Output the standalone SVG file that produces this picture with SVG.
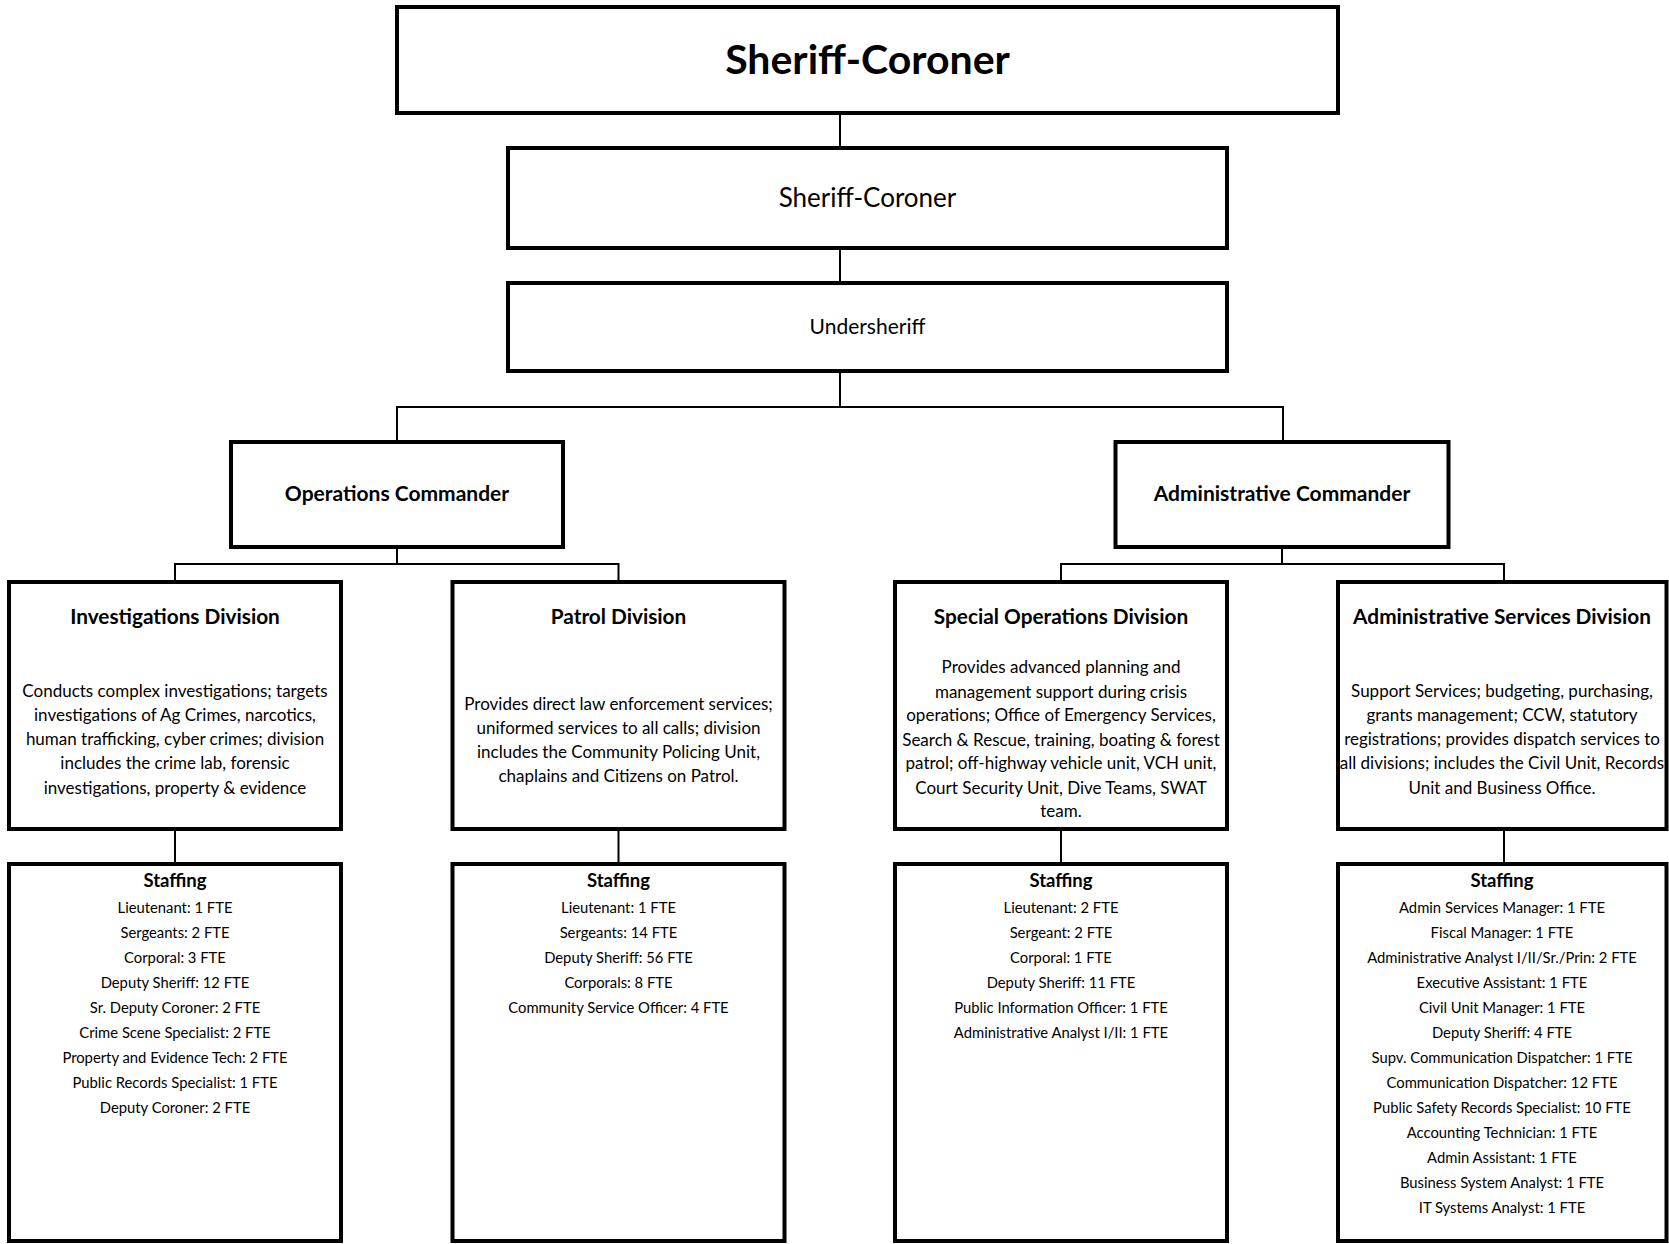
<svg xmlns="http://www.w3.org/2000/svg" width="1669" height="1244" viewBox="0 0 1669 1244">
  <style>
    .box { fill: #ffffff; stroke: #000000; stroke-width: 4; }
    .conn { fill: none; stroke: #000000; stroke-width: 2; }
    text { font-family: Lato, "Open Sans", "Liberation Sans", sans-serif; fill: #000000; text-anchor: middle; }
    .title { font-size: 41px; font-weight: bold; }
    .chief { font-size: 26px; }
    .under { font-size: 21px; }
    .cmd { font-size: 21px; font-weight: bold; }
    .div { font-size: 20.8px; font-weight: bold; }
    .desc { font-size: 17px; }
    .sh { font-size: 18.5px; font-weight: bold; }
    .st { font-size: 14.8px; }
  </style>
  <rect width="1669" height="1244" fill="#ffffff"/>

  <!-- reporting lines -->
  <g id="connectors">
    <path class="conn" d="M840 113 V148 M840 248 V283 M840 371 V407"/>
    <path class="conn" d="M397 442 V407 H1283 V442"/>
    <path class="conn" d="M397 547 V564 M175 582 V564 H618.5 V582"/>
    <path class="conn" d="M1282 547 V564 M1061 582 V564 H1504 V582"/>
    <path class="conn" d="M175 829 V864 M618.5 829 V864 M1061 829 V864 M1504 829 V864"/>
  </g>

  <g id="header">
    <rect class="box" x="397" y="7" width="941" height="106"/>
    <text class="title" x="867.5" y="74">Sheriff-Coroner</text>
  </g>

  <g id="sheriff">
    <rect class="box" x="508" y="148" width="719" height="100"/>
    <text class="chief" x="867.5" y="207">Sheriff-Coroner</text>
  </g>

  <g id="undersheriff">
    <rect class="box" x="508" y="283" width="719" height="88"/>
    <text class="under" x="867.5" y="334">Undersheriff</text>
  </g>

  <g id="ops-commander">
    <rect class="box" x="231" y="442" width="332" height="105"/>
    <text class="cmd" x="397" y="501">Operations Commander</text>
  </g>

  <g id="admin-commander">
    <rect class="box" x="1115.5" y="442" width="333" height="105"/>
    <text class="cmd" x="1282" y="501">Administrative Commander</text>
  </g>

  <g id="investigations">
    <rect class="box" x="9" y="582" width="332" height="247"/>
    <text class="div" x="175" y="624">Investigations Division</text>
    <text class="desc" x="175" y="697">Conducts complex investigations; targets</text>
    <text class="desc" x="175" y="721">investigations of Ag Crimes, narcotics,</text>
    <text class="desc" x="175" y="745">human trafficking, cyber crimes; division</text>
    <text class="desc" x="175" y="769">includes the crime lab, forensic</text>
    <text class="desc" x="175" y="794">investigations, property &amp; evidence</text>
  </g>

  <g id="patrol">
    <rect class="box" x="452.5" y="582" width="332" height="247"/>
    <text class="div" x="618.5" y="624">Patrol Division</text>
    <text class="desc" x="618.5" y="710">Provides direct law enforcement services;</text>
    <text class="desc" x="618.5" y="734">uniformed services to all calls; division</text>
    <text class="desc" x="618.5" y="758">includes the Community Policing Unit,</text>
    <text class="desc" x="618.5" y="782">chaplains and Citizens on Patrol.</text>
  </g>

  <g id="special-operations">
    <rect class="box" x="895" y="582" width="332" height="247"/>
    <text class="div" x="1061" y="624">Special Operations Division</text>
    <text class="desc" x="1061" y="673">Provides advanced planning and</text>
    <text class="desc" x="1061" y="698">management support during crisis</text>
    <text class="desc" x="1061" y="721">operations; Office of Emergency Services,</text>
    <text class="desc" x="1061" y="746">Search &amp; Rescue, training, boating &amp; forest</text>
    <text class="desc" x="1061" y="769">patrol; off-highway vehicle unit, VCH unit,</text>
    <text class="desc" x="1061" y="794">Court Security Unit, Dive Teams, SWAT</text>
    <text class="desc" x="1061" y="817">team.</text>
  </g>

  <g id="administrative-services">
    <rect class="box" x="1338" y="582" width="328.5" height="247"/>
    <text class="div" x="1502" y="624">Administrative Services Division</text>
    <text class="desc" x="1502" y="697">Support Services; budgeting, purchasing,</text>
    <text class="desc" x="1502" y="721">grants management; CCW, statutory</text>
    <text class="desc" x="1502" y="745">registrations; provides dispatch services to</text>
    <text class="desc" x="1502" y="769">all divisions; includes the Civil Unit, Records</text>
    <text class="desc" x="1502" y="794">Unit and Business Office.</text>
  </g>

  <g id="investigations-staffing">
    <rect class="box" x="9" y="864" width="332" height="377"/>
    <text class="sh" x="175" y="887">Staffing</text>
    <text class="st" x="175" y="913">Lieutenant: 1 FTE</text>
    <text class="st" x="175" y="938">Sergeants: 2 FTE</text>
    <text class="st" x="175" y="963">Corporal: 3 FTE</text>
    <text class="st" x="175" y="988">Deputy Sheriff: 12 FTE</text>
    <text class="st" x="175" y="1013">Sr. Deputy Coroner: 2 FTE</text>
    <text class="st" x="175" y="1038">Crime Scene Specialist: 2 FTE</text>
    <text class="st" x="175" y="1063">Property and Evidence Tech: 2 FTE</text>
    <text class="st" x="175" y="1088">Public Records Specialist: 1 FTE</text>
    <text class="st" x="175" y="1113">Deputy Coroner: 2 FTE</text>
  </g>

  <g id="patrol-staffing">
    <rect class="box" x="452.5" y="864" width="332" height="377"/>
    <text class="sh" x="618.5" y="887">Staffing</text>
    <text class="st" x="618.5" y="913">Lieutenant: 1 FTE</text>
    <text class="st" x="618.5" y="938">Sergeants: 14 FTE</text>
    <text class="st" x="618.5" y="963">Deputy Sheriff: 56 FTE</text>
    <text class="st" x="618.5" y="988">Corporals: 8 FTE</text>
    <text class="st" x="618.5" y="1013">Community Service Officer: 4 FTE</text>
  </g>

  <g id="special-operations-staffing">
    <rect class="box" x="895" y="864" width="332" height="377"/>
    <text class="sh" x="1061" y="887">Staffing</text>
    <text class="st" x="1061" y="913">Lieutenant: 2 FTE</text>
    <text class="st" x="1061" y="938">Sergeant: 2 FTE</text>
    <text class="st" x="1061" y="963">Corporal: 1 FTE</text>
    <text class="st" x="1061" y="988">Deputy Sheriff: 11 FTE</text>
    <text class="st" x="1061" y="1013">Public Information Officer: 1 FTE</text>
    <text class="st" x="1061" y="1038">Administrative Analyst I/II: 1 FTE</text>
  </g>

  <g id="administrative-services-staffing">
    <rect class="box" x="1338" y="864" width="328.5" height="377"/>
    <text class="sh" x="1502" y="887">Staffing</text>
    <text class="st" x="1502" y="913">Admin Services Manager: 1 FTE</text>
    <text class="st" x="1502" y="938">Fiscal Manager: 1 FTE</text>
    <text class="st" x="1502" y="963">Administrative Analyst I/II/Sr./Prin: 2 FTE</text>
    <text class="st" x="1502" y="988">Executive Assistant: 1 FTE</text>
    <text class="st" x="1502" y="1013">Civil Unit Manager: 1 FTE</text>
    <text class="st" x="1502" y="1038">Deputy Sheriff: 4 FTE</text>
    <text class="st" x="1502" y="1063">Supv. Communication Dispatcher: 1 FTE</text>
    <text class="st" x="1502" y="1088">Communication Dispatcher: 12 FTE</text>
    <text class="st" x="1502" y="1113">Public Safety Records Specialist: 10 FTE</text>
    <text class="st" x="1502" y="1138">Accounting Technician: 1 FTE</text>
    <text class="st" x="1502" y="1163">Admin Assistant: 1 FTE</text>
    <text class="st" x="1502" y="1188">Business System Analyst: 1 FTE</text>
    <text class="st" x="1502" y="1213">IT Systems Analyst: 1 FTE</text>
  </g>
</svg>
